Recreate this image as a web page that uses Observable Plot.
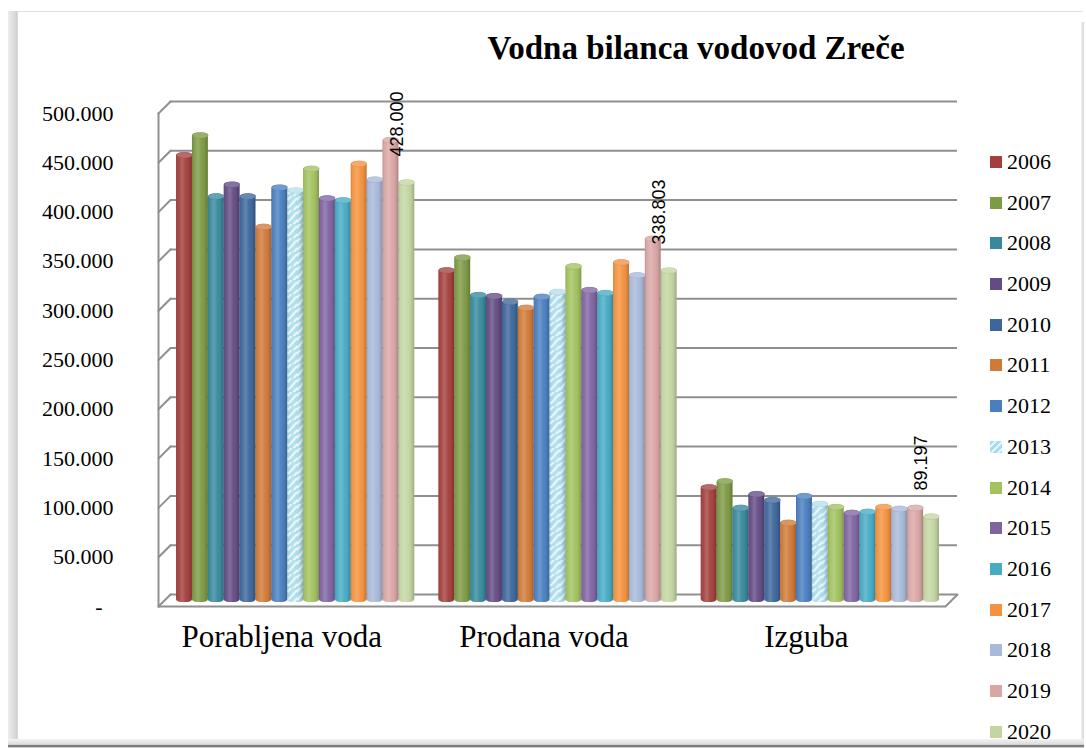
<!DOCTYPE html>
<html>
<head>
<meta charset="utf-8">
<script src="https://cdn.jsdelivr.net/npm/d3@7"></script>
<script src="https://cdn.jsdelivr.net/npm/@observablehq/plot@0.6"></script>
<style>
  html, body { margin: 0; padding: 0; background: #fff; width: 1086px; height: 748px; overflow: hidden; }
  .abs { position: absolute; }
  #topline { left: 8px; top: 11px; width: 1075px; height: 1px; background: #e0e0e0; z-index: 5; }
  #leftband { left: 8px; top: 11px; width: 10px; height: 735px; background: linear-gradient(to right, #ececec 0, #d9d9d9 70%, #cdcdcd 90%, #e8e8e8 100%); z-index: 5; }
  #bottomband { left: 8px; top: 739px; width: 1076px; height: 9px; background: linear-gradient(to bottom, #f3f3f3 0, #dcdcdc 60%, #7c7c7c 70%, #7c7c7c 85%, #fff 100%); z-index: 5; }
  #rightband { left: 1081px; top: 22px; width: 3px; height: 720px; background: linear-gradient(to right, #f2f2f2, #d4d4d4); z-index: 5; }
  #title { left: 446px; width: 500px; top: 30px; line-height: 33px; text-align: center; font: bold 33px "Liberation Serif", serif; color: #000; z-index: 3; white-space: nowrap; }
  #bg, #fg { position: absolute; left: 0; top: 0; }
  #bg { z-index: 1; }
  #fg { z-index: 2; }
  #legend { z-index: 3; }
  #bg svg text { font-family: "Liberation Serif", serif; }
  .lrow { position: absolute; left: 990px; height: 40.7px; display: flex; align-items: center; font: 22px "Liberation Serif", serif; color: #000; white-space: nowrap; }
  .sw { width: 12px; height: 12px; margin-right: 5px; flex: none; }
</style>
</head>
<body>
<div id="topline" class="abs"></div>
<div id="leftband" class="abs"></div>
<div id="rightband" class="abs"></div>
<div id="bottomband" class="abs"></div>
<div id="title" class="abs">Vodna bilanca vodovod Zreče</div>
<div id="bg"></div>
<div id="fg"></div>
<div id="legend"></div>
<script>
// ---- data ----
const categories = ["Porabljena voda", "Prodana voda", "Izguba"];
const years = ["2006", "2007", "2008", "2009", "2010", "2011", "2012", "2013", "2014", "2015", "2016", "2017", "2018", "2019", "2020"];
const porabljena = [456000, 476000, 414000, 426000, 414000, 383000, 423000, 420000, 442000, 412000, 410000, 447000, 431000, 471000, 428000];
const prodana    = [339000, 352000, 314000, 313000, 307000, 301000, 312000, 317000, 343000, 319000, 316000, 347000, 334000, 371000, 338803];
const izguba     = [119000, 125000,  98000, 112000, 106000,  83000, 110000, 102000,  99000,  93000,  94000,  99000,  97000,  98000,  89197];
const yearColors = ["#a3403d", "#7d9a45", "#378a9e", "#634c85", "#3d679c", "#d07a38", "#4a7fbf", "#b4e0ec", "#a2c25f", "#8064a2", "#47abc4", "#f4923f", "#a8b9d9", "#d9a6a5", "#c3d6a2"];
const yTickValues = [0, 50000, 100000, 150000, 200000, 250000, 300000, 350000, 400000, 450000, 500000];

// ---- layout ----
const W = 1086, H = 748;
const M = {top: 109, right: 141, bottom: 146, left: 158};
const gridColor = "#8f8f8f";
const serif = "'Liberation Serif', serif";
const fmt = v => v === 0 ? "-\u2007" : d3.format(",")(v).replace(/,/g, ".");

const series = [porabljena, prodana, izguba];
const rows = categories.flatMap((c, ci) => years.map((y, yi) => ({category: c, year: y, value: series[ci][yi]})));

const lineShape = {draw(ctx, l) { ctx.moveTo(0, 0); ctx.lineTo(0, -l); }};
// elliptical cylinder cap
const capShape = {draw(ctx) {
  const a = 7.9, b = 3, k = 0.5523;
  ctx.moveTo(-a, 0);
  ctx.bezierCurveTo(-a, -b * k, -a * k, -b, 0, -b);
  ctx.bezierCurveTo(a * k, -b, a, -b * k, a, 0);
  ctx.bezierCurveTo(a, b * k, a * k, b, 0, b);
  ctx.bezierCurveTo(-a * k, b, -a, b * k, -a, 0);
  ctx.closePath();
}};

const bg = Plot.plot({
  width: W, height: H,
  marginTop: M.top, marginRight: M.right, marginBottom: M.bottom, marginLeft: M.left,
  style: {background: "transparent", fontFamily: serif, fontSize: "22px", color: "#000"},
  y: {domain: [0, 500000], axis: null},
  marks: [
    Plot.ruleY(yTickValues, {dx: 12, dy: -8, stroke: gridColor, strokeWidth: 2}),
    Plot.vector(yTickValues, {y: d => d, frameAnchor: "left", dy: 4, rotate: 45, length: 17, anchor: "start", shape: lineShape, stroke: gridColor, strokeWidth: 2}),
    Plot.vector([0], {y: d => d, frameAnchor: "right", dy: 4, rotate: 45, length: 17, anchor: "start", shape: lineShape, stroke: gridColor, strokeWidth: 2}),
    Plot.ruleY([0], {dy: 4, stroke: gridColor, strokeWidth: 2}),
    Plot.frame({anchor: "left", dy: 4, stroke: gridColor, strokeWidth: 2}),
    Plot.axisY(yTickValues, {tickSize: 0, tickPadding: 45, dy: 4, tickFormat: fmt, fontSize: 22, fontFamily: serif, label: null})
  ]
});
document.getElementById("bg").appendChild(bg);

const fg = Plot.plot({
  width: W, height: H,
  marginTop: M.top, marginRight: M.right, marginBottom: M.bottom, marginLeft: M.left,
  style: {background: "transparent", fontFamily: serif, fontSize: "31px", color: "#000"},
  fx: {domain: categories, paddingInner: 0.092, paddingOuter: 0.046, round: false, label: null},
  x: {domain: years, padding: 0, round: false, axis: null},
  y: {domain: [0, 500000], axis: null},
  color: {domain: years, range: yearColors},
  marks: [
    Plot.barY(rows, {fx: "category", x: "year", y: "value", fill: "year", inset: 0, rx: 5, ry: 3, dx: 6}),
    Plot.barY(rows.filter(d => d.year === "2013"), {fx: "category", x: "year", y: "value", fill: "url(#tex)", inset: 0, rx: 5, ry: 3, dx: 6}),
    Plot.barY(rows, {fx: "category", x: "year", y: "value", fill: "url(#cyl)", inset: 0, rx: 5, ry: 3, dx: 6}),
    Plot.dot(rows, {fx: "category", x: "year", y: "value", fill: "year", symbol: capShape, dx: 6, dy: 2}),
    Plot.dot(rows, {fx: "category", x: "year", y: "value", fill: "#fff", fillOpacity: 0.22, stroke: "#000", strokeOpacity: 0.08, strokeWidth: 0.8, symbol: capShape, dx: 6, dy: 2}),
    Plot.text(rows.filter(d => d.year === "2020"), {fx: "category", x: "year", y: "value", text: d => fmt(d.value), rotate: -90, textAnchor: "start", dy: -24, dx: -4, fontSize: 18, fontFamily: "'Liberation Sans', Arial, sans-serif", fill: "#000"}),
    Plot.axisFx({anchor: "bottom", tickSize: 0, tickPadding: 22, dx: -8, label: null, fontSize: 31, fontFamily: serif})
  ]
});
const defs = document.createElementNS("http://www.w3.org/2000/svg", "defs");
defs.innerHTML = `
  <linearGradient id="cyl" x1="0" x2="1" y1="0" y2="0">
    <stop offset="0" stop-color="#000" stop-opacity="0.14"/>
    <stop offset="0.15" stop-color="#fff" stop-opacity="0.04"/>
    <stop offset="0.38" stop-color="#fff" stop-opacity="0.2"/>
    <stop offset="0.62" stop-color="#fff" stop-opacity="0.03"/>
    <stop offset="0.88" stop-color="#000" stop-opacity="0.1"/>
    <stop offset="1" stop-color="#000" stop-opacity="0.22"/>
  </linearGradient>
  <pattern id="tex" patternUnits="userSpaceOnUse" width="9" height="14">
    <rect width="9" height="14" fill="#a9dbe9"/>
    <path d="M0 12 L9 2 M-2 6 L4 -1 M5 15 L11 8" stroke="#e8f7fb" stroke-width="2" fill="none"/>
  </pattern>`;
fg.insertBefore(defs, fg.firstChild);
document.getElementById("fg").appendChild(fg);

// ---- legend ----
const legend = document.getElementById("legend");
years.forEach((y, i) => {
  const row = document.createElement("div");
  row.className = "lrow";
  row.style.top = (162 - 20.35 + 40.7 * i) + "px";
  const sw = document.createElement("span");
  sw.className = "sw";
  sw.style.background = y === "2013"
    ? "repeating-linear-gradient(135deg, #a9dbe9 0 3px, #e3f5fa 3px 5px)"
    : yearColors[i];
  const t = document.createElement("span");
  t.textContent = y;
  row.appendChild(sw);
  row.appendChild(t);
  legend.appendChild(row);
});
</script>
</body>
</html>
